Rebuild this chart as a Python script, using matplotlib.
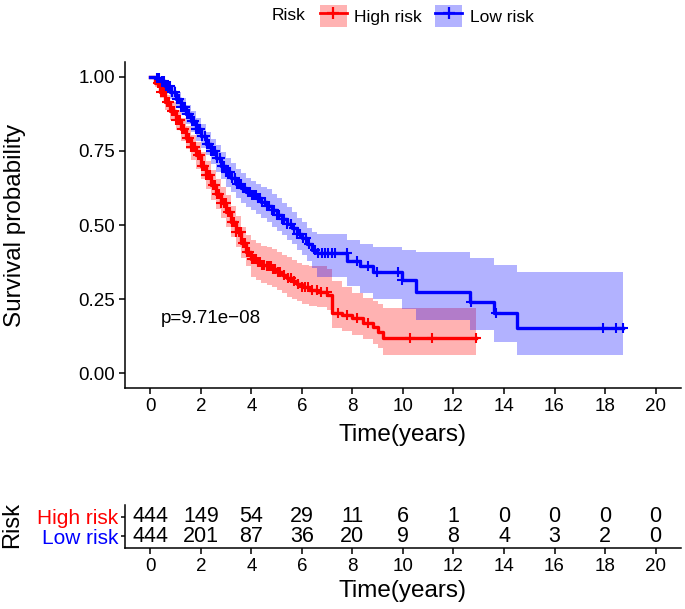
import numpy as np
import matplotlib
matplotlib.use('Agg')
import matplotlib.pyplot as plt
from matplotlib.patches import Patch
from matplotlib.lines import Line2D

plt.rcParams['font.family'] = ['Liberation Sans', 'DejaVu Sans']

RED = '#FF0000'
BLUE = '#0000FF'

# High risk group: step times (years), survival, 95% CI
high_t = [0, 0.2, 0.4, 0.6, 0.8, 1.0, 1.2, 1.4, 1.6, 1.8, 2.0, 2.2, 2.4, 2.6, 2.8,
          3.0, 3.2, 3.4, 3.6, 3.8, 4.0, 4.2, 4.4, 4.6, 4.8, 5.0, 5.2, 5.4, 5.6, 5.8,
          6.0, 6.3, 6.6, 7.0, 7.2, 7.6, 8.0, 8.4, 8.8, 9.0, 9.2, 12.9]
high_s = [1.0, 0.98, 0.95, 0.915, 0.885, 0.855, 0.825, 0.795, 0.765, 0.735, 0.70,
          0.67, 0.635, 0.605, 0.575, 0.545, 0.51, 0.475, 0.44, 0.41, 0.385, 0.375,
          0.365, 0.36, 0.35, 0.34, 0.33, 0.32, 0.31, 0.30, 0.29, 0.282, 0.275, 0.264,
          0.202, 0.195, 0.186, 0.17, 0.156, 0.14, 0.12, 0.12]
high_lo = [1.0, 0.965, 0.93, 0.89, 0.855, 0.82, 0.785, 0.755, 0.72, 0.69, 0.655,
           0.62, 0.585, 0.555, 0.525, 0.495, 0.46, 0.425, 0.39, 0.36, 0.325, 0.315,
           0.305, 0.298, 0.29, 0.28, 0.27, 0.258, 0.25, 0.242, 0.235, 0.228, 0.222,
           0.212, 0.152, 0.142, 0.13, 0.115, 0.10, 0.085, 0.062, 0.062]
high_hi = [1.0, 0.995, 0.97, 0.94, 0.915, 0.89, 0.86, 0.835, 0.805, 0.78, 0.745,
           0.715, 0.685, 0.655, 0.63, 0.60, 0.565, 0.53, 0.495, 0.465, 0.45, 0.44,
           0.43, 0.425, 0.418, 0.41, 0.40, 0.392, 0.382, 0.372, 0.365, 0.36, 0.36,
           0.35, 0.31, 0.29, 0.27, 0.255, 0.245, 0.235, 0.22, 0.22]
high_cens = [0.32, 0.41, 0.5, 0.58, 0.67, 0.75, 0.84, 0.92, 1.01, 1.1, 1.18, 1.27,
             1.35, 1.44, 1.52, 1.61, 1.7, 1.78, 1.87, 1.95, 2.04, 2.12, 2.21, 2.3,
             2.38, 2.47, 2.55, 2.64, 2.72, 2.81, 2.9, 2.98, 3.07, 3.15, 3.24, 3.32,
             3.41, 3.5, 3.58, 3.67, 3.75, 3.84, 3.92, 4.01, 4.1, 4.18, 4.27, 4.35,
             4.44, 4.52, 4.61, 4.7, 4.78, 4.87, 4.95, 5.04, 5.14, 5.3, 5.45, 5.55,
             5.67, 5.85, 6.0, 6.13, 6.25, 6.4, 6.59, 6.75, 6.98, 7.44, 7.77, 8.2,
             8.63, 10.28, 11.13, 12.91]

# Low risk group
low_t = [0, 0.2, 0.4, 0.6, 0.8, 1.0, 1.2, 1.4, 1.6, 1.8, 2.0, 2.2, 2.4, 2.6, 2.8,
         3.0, 3.2, 3.4, 3.6, 3.8, 4.0, 4.2, 4.4, 4.6, 4.8, 5.0, 5.2, 5.4, 5.6, 5.8,
         6.0, 6.2, 6.4, 6.6, 7.8, 8.3, 8.8, 9.95, 10.5, 12.65, 13.6, 14.5, 18.7]
low_s = [1.0, 0.995, 0.985, 0.97, 0.95, 0.925, 0.90, 0.875, 0.85, 0.825, 0.80,
         0.775, 0.75, 0.725, 0.70, 0.68, 0.66, 0.64, 0.625, 0.61, 0.60, 0.59, 0.578,
         0.565, 0.55, 0.535, 0.52, 0.505, 0.49, 0.47, 0.455, 0.435, 0.415, 0.405,
         0.38, 0.36, 0.34, 0.314, 0.274, 0.241, 0.203, 0.153, 0.153]
low_lo = [1.0, 0.985, 0.97, 0.95, 0.925, 0.895, 0.87, 0.84, 0.815, 0.785, 0.76,
          0.735, 0.705, 0.68, 0.655, 0.63, 0.61, 0.59, 0.575, 0.56, 0.55, 0.538,
          0.525, 0.51, 0.495, 0.48, 0.465, 0.45, 0.435, 0.415, 0.40, 0.38, 0.355,
          0.325, 0.295, 0.27, 0.25, 0.215, 0.18, 0.145, 0.106, 0.061, 0.061]
low_hi = [1.0, 1.0, 0.995, 0.985, 0.97, 0.95, 0.93, 0.905, 0.885, 0.86, 0.84,
          0.815, 0.79, 0.77, 0.745, 0.725, 0.71, 0.69, 0.675, 0.66, 0.65, 0.64, 0.63,
          0.62, 0.605, 0.59, 0.575, 0.56, 0.545, 0.525, 0.51, 0.49, 0.475, 0.47,
          0.45, 0.435, 0.425, 0.415, 0.41, 0.388, 0.365, 0.342, 0.342]
low_cens = [0.28, 0.36, 0.45, 0.53, 0.62, 0.7, 0.79, 0.87, 0.96, 1.04, 1.13, 1.21,
            1.3, 1.38, 1.47, 1.55, 1.64, 1.72, 1.81, 1.89, 1.98, 2.06, 2.15, 2.23,
            2.32, 2.4, 2.49, 2.57, 2.66, 2.74, 2.83, 2.91, 3.0, 3.08, 3.17, 3.25,
            3.34, 3.42, 3.51, 3.59, 3.68, 3.76, 3.85, 3.93, 4.02, 4.1, 4.19, 4.27,
            4.36, 4.44, 4.53, 4.61, 4.7, 4.8, 4.9, 5.0, 5.1, 5.2, 5.3, 5.42, 5.55,
            5.68, 5.8, 5.93, 6.05, 6.18, 6.3, 6.52, 6.65, 6.78, 6.92, 7.05, 7.18,
            7.3, 7.77, 8.17, 8.63, 8.96, 9.82, 9.95, 12.71, 13.7, 17.92, 18.45, 18.71]

# number at risk table
risk_times = [0, 2, 4, 6, 8, 10, 12, 14, 16, 18, 20]
high_risk_n = [444, 149, 54, 29, 11, 6, 1, 0, 0, 0, 0]
low_risk_n = [444, 201, 87, 36, 20, 9, 8, 4, 3, 2, 0]

pval_text = 'p=9.71e\u221208'


def draw_group(ax, t, s, lo, hi, cens, color):
    t = np.array(t)
    s = np.array(s)
    ax.fill_between(t, lo, hi, step='post', color=color, alpha=0.3, linewidth=0)
    ax.step(t, s, where='post', color=color, linewidth=2.4)
    idx = np.searchsorted(t, cens, side='right') - 1
    ax.plot(cens, s[idx], '+', color=color, markersize=7.5, markeredgewidth=1.5)


fig = plt.figure(figsize=(6.85, 6.09), dpi=100)
ax = fig.add_axes([0.1825, 0.363, 0.8115, 0.535])

draw_group(ax, high_t, high_s, high_lo, high_hi, high_cens, RED)
draw_group(ax, low_t, low_s, low_lo, low_hi, low_cens, BLUE)

ax.text(0.4, 0.185, pval_text, fontsize=13.5, ha='left', va='center')

ax.set_xlim(-1, 21)
ax.set_ylim(-0.05, 1.05)
ax.set_xticks(risk_times)
ax.set_yticks([0, 0.25, 0.5, 0.75, 1.0])
ax.set_yticklabels(['0.00', '0.25', '0.50', '0.75', '1.00'])
for sp in ['top', 'right']:
    ax.spines[sp].set_visible(False)
for sp in ['left', 'bottom']:
    ax.spines[sp].set_linewidth(1.1)
ax.tick_params(labelsize=13.5, length=4, width=1.1, pad=3, colors='black')
ax.set_xlabel('Time(years)', fontsize=17.5)
ax.set_ylabel('Survival probability', fontsize=17.5)
ax.xaxis.label.set_va('center')
ax.yaxis.label.set_va('center')
ax.xaxis.set_label_coords(0.5, -0.144)
ax.yaxis.set_label_coords(-0.198, 0.5)

# legend on top
fig.text(0.397, 0.974, 'Risk', fontsize=12.5, ha='left', va='center')
handles = [(Patch(facecolor=RED, alpha=0.3, linewidth=0),
            Line2D([], [], color=RED, marker='+', linewidth=2, markersize=9, markeredgewidth=1.6)),
           (Patch(facecolor=BLUE, alpha=0.3, linewidth=0),
            Line2D([], [], color=BLUE, marker='+', linewidth=2, markersize=9, markeredgewidth=1.6))]
fig.legend(handles, ['High risk', 'Low risk'], loc='center', bbox_to_anchor=(0.623, 0.974),
           ncol=2, frameon=False, fontsize=12.5, handlelength=1.55, handleheight=1.55,
           handletextpad=0.45, columnspacing=0.75)

# risk table
ax2 = fig.add_axes([0.1825, 0.1002, 0.8115, 0.0706])
for x, n in zip(risk_times, high_risk_n):
    ax2.text(x, 2, str(n), fontsize=15.5, ha='center', va='center')
for x, n in zip(risk_times, low_risk_n):
    ax2.text(x, 1, str(n), fontsize=15.5, ha='center', va='center')
ax2.set_xlim(-1, 21)
ax2.set_ylim(0.4, 2.6)
ax2.set_xticks(risk_times)
ax2.set_yticks([1, 2])
ax2.set_yticklabels(['Low risk', 'High risk'])
ax2.get_yticklabels()[0].set_color(BLUE)
ax2.get_yticklabels()[1].set_color(RED)
for sp in ['top', 'right']:
    ax2.spines[sp].set_visible(False)
for sp in ['left', 'bottom']:
    ax2.spines[sp].set_linewidth(1.1)
ax2.tick_params(axis='x', labelsize=13.5, length=4, width=1.1, pad=3)
ax2.tick_params(axis='y', labelsize=15, length=3, width=1.1, pad=2)
ax2.set_xlabel('Time(years)', fontsize=17.5)
ax2.set_ylabel('Risk', fontsize=17)
ax2.xaxis.label.set_va('center')
ax2.yaxis.label.set_va('center')
ax2.xaxis.set_label_coords(0.5, -1.0)
ax2.yaxis.set_label_coords(-0.203, 0.53)

fig.savefig('out.png', dpi=100)
